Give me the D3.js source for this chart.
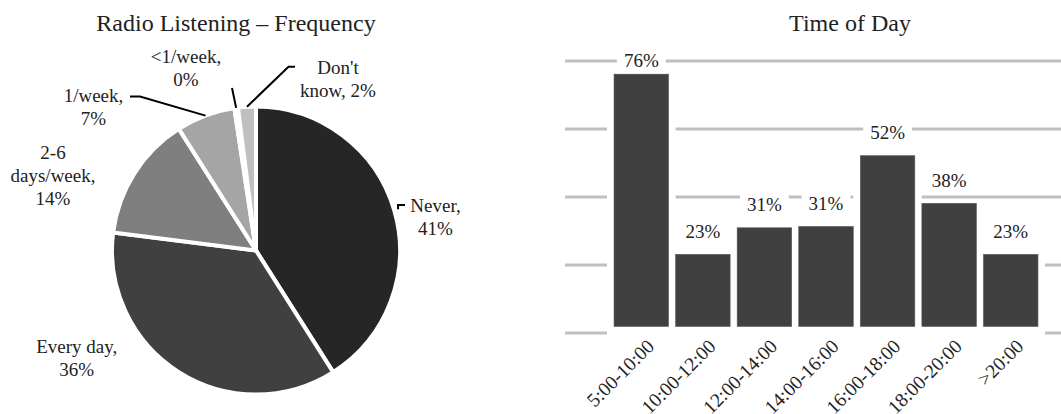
<!DOCTYPE html>
<html>
<head>
<meta charset="utf-8">
<script src="https://cdn.jsdelivr.net/npm/d3@7"></script>
<style>
  body { margin: 0; background: #fff; }
  text { font-family: "Liberation Serif", "Times New Roman", serif; fill: #222; }
</style>
</head>
<body>
<svg id="chart" width="1061" height="414"></svg>
<script>
// pie data
var pieCategories = ["Never", "Every day", "2-6 days/week", "1/week", "<1/week", "Don't know"];
var pieValues = [41, 36, 14, 6.6, 0.4, 2];
var pieLabelLines = [
  ["Never,", "41%"],
  ["Every day,", "36%"],
  ["2-6", "days/week,", "14%"],
  ["1/week,", "7%"],
  ["<1/week,", "0%"],
  ["Don't", "know, 2%"]
];
var pieColors = ["#262626", "#404040", "#7f7f7f", "#a5a5a5", "#d9d9d9", "#bfbfbf"];

// bar data
var timeSlots = ["5:00-10:00", "10:00-12:00", "12:00-14:00", "14:00-16:00", "16:00-18:00", "18:00-20:00", ">20:00"];
var timeValues = [76, 23, 30.8, 31.2, 52, 38, 23];
var gridTicks = [0, 20, 40, 60, 80];

var svg = d3.select("#chart");
svg.append("rect").attr("width", 1061).attr("height", 414).attr("fill", "#fff");

// ---------- pie ----------
var cx = 256, cy = 250.5, radius = 144;
var gp = svg.append("g").attr("transform", "translate(" + cx + "," + cy + ")");

svg.append("text")
  .attr("x", 236).attr("y", 31)
  .attr("text-anchor", "middle")
  .style("font-size", "24px")
  .text("Radio Listening \u2013 Frequency");

var pie = d3.pie().sort(null).value(function(d) { return d; });
var arc = d3.arc().innerRadius(0).outerRadius(radius);
var arcs = pie(pieValues);

gp.selectAll("path.slice")
  .data(arcs)
  .enter().append("path")
  .attr("class", "slice")
  .attr("d", arc)
  .attr("fill", function(d, i) { return pieColors[i]; })
  .attr("stroke", "#fff")
  .attr("stroke-width", 4)
  .attr("stroke-linejoin", "miter");

// label placement relative to pie centre (layout only)
var labelLayout = [
  { x: 179.5, y: -33.5, gap: 4, leader: [[142, -45.5], [149, -45.5]] },
  { x: -179.3, y: 107.5, gap: 0, leader: null },
  { x: -203, y: -74.5, gap: 0, leader: null },
  { x: -162.5, y: -143, gap: 0, leader: [[-116, -154], [-126, -154]] },
  { x: -70, y: -181.8, gap: 0, leader: [[-24, -162.5]] },
  { x: 82, y: -171.5, gap: 0, leader: [[32.5, -183.8], [39, -183.8]] }
];
var lineH = 23;

arcs.forEach(function(a, i) {
  var lay = labelLayout[i];
  if (lay.leader) {
    var mid = (a.startAngle + a.endAngle) / 2;
    var r = radius + lay.gap;
    var pts = [[r * Math.sin(mid), -r * Math.cos(mid)]].concat(lay.leader);
    gp.append("path")
      .attr("d", d3.line()(pts))
      .attr("fill", "none")
      .attr("stroke", "#000")
      .attr("stroke-width", 2);
  }
  var lines = pieLabelLines[i];
  var t = gp.append("text")
    .attr("text-anchor", "middle")
    .style("font-size", "19px");
  lines.forEach(function(s, k) {
    t.append("tspan")
      .attr("x", lay.x)
      .attr("y", lay.y + (k - (lines.length - 1) / 2) * lineH)
      .attr("dy", "0.33em")
      .text(s);
  });
});

// ---------- bars ----------
svg.append("text")
  .attr("x", 850).attr("y", 31)
  .attr("text-anchor", "middle")
  .style("font-size", "24px")
  .text("Time of Day");

var x = d3.scaleBand()
  .domain(timeSlots)
  .range([607, 1045])
  .padding(0.114);

var y = d3.scaleLinear()
  .domain([0, 80])
  .range([332.5, 60.5]);

var gridG = svg.append("g")
  .attr("transform", "translate(565,0)")
  .call(d3.axisLeft(y).tickValues(gridTicks).tickSize(-530).tickFormat(""));
gridG.select(".domain").remove();
gridG.selectAll(".tick line")
  .attr("stroke", "#bfbfbf")
  .attr("stroke-width", 3);

// white halo behind each bar
svg.selectAll("rect.halo")
  .data(timeValues)
  .enter().append("rect")
  .attr("class", "halo")
  .attr("x", function(d, i) { return x(timeSlots[i]) - 7; })
  .attr("width", x.bandwidth() + 14)
  .attr("y", function(d) { return y(d) - 2; })
  .attr("height", function(d) { return y(0) - y(d) + 6; })
  .attr("fill", "#fff");

svg.selectAll("rect.bar")
  .data(timeValues)
  .enter().append("rect")
  .attr("class", "bar")
  .attr("x", function(d, i) { return x(timeSlots[i]); })
  .attr("width", x.bandwidth())
  .attr("y", function(d) { return y(d); })
  .attr("height", function(d) { return y(0) - 6 - y(d); })
  .attr("fill", "#404040")
  .attr("stroke", "#5c5c5c")
  .attr("stroke-width", 0.6);

// value labels with white backing
var lab = svg.selectAll("g.vlab")
  .data(timeValues)
  .enter().append("g")
  .attr("class", "vlab")
  .attr("transform", function(d, i) {
    var ly = Math.max(y(d) - 23, y(80));
    return "translate(" + (x(timeSlots[i]) + x.bandwidth() / 2) + "," + ly + ")";
  });
lab.append("rect").attr("fill", "#fff");
lab.append("text")
  .attr("text-anchor", "middle")
  .attr("dy", "0.33em")
  .style("font-size", "19px")
  .text(function(d) { return Math.round(d) + "%"; });
lab.each(function() {
  var g = d3.select(this);
  var w = g.select("text").node().getComputedTextLength();
  g.select("rect")
    .attr("x", -w / 2 - 7).attr("width", w + 14)
    .attr("y", -13).attr("height", 26);
});

// rotated category labels
var xAxis = svg.append("g")
  .attr("transform", "translate(0," + y(0) + ")")
  .call(d3.axisBottom(x).tickSize(0));
xAxis.select(".domain").remove();
xAxis.selectAll(".tick text")
  .attr("x", 0).attr("y", 0).attr("dy", 0)
  .attr("text-anchor", "end")
  .attr("transform", "translate(14,15) rotate(-45)")
  .style("font-size", "19.5px")
  .style("font-family", "\"Liberation Serif\", serif")
  .attr("fill", "#222");
</script>
</body>
</html>
